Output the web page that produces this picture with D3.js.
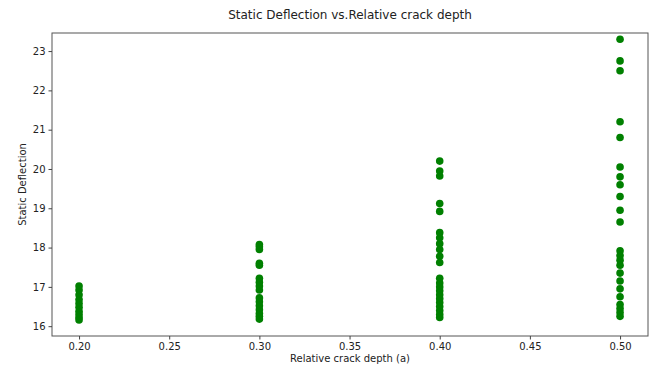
<!DOCTYPE html>
<html>
<head>
<meta charset="utf-8">
<script src="https://cdn.jsdelivr.net/npm/d3@7"></script>
<style>
  body { margin: 0; background: #fff; }
  text { font-family: "DejaVu Sans", sans-serif; fill: #222; }
</style>
</head>
<body>
<div id="chart"></div>
<script>
// relative crack depth groups
var depths = [0.2, 0.3, 0.4, 0.5];
// static deflection readings per depth
var defl20 = [17.02, 16.92, 16.8, 16.68, 16.58, 16.48, 16.38, 16.3, 16.22, 16.16];
var defl30 = [18.08, 18.02, 17.95, 17.6, 17.55, 17.22, 17.12, 17.02, 16.92, 16.72, 16.62, 16.52, 16.42, 16.32, 16.25, 16.18];
var defl40 = [20.2, 19.95, 19.82, 19.12, 18.92, 18.38, 18.25, 18.1, 17.95, 17.78, 17.62, 17.22, 17.1, 17.0, 16.9, 16.8, 16.7, 16.6, 16.5, 16.4, 16.3, 16.22];
var defl50 = [23.3, 22.75, 22.5, 21.2, 20.8, 20.05, 19.8, 19.6, 19.3, 18.95, 18.65, 17.92, 17.8, 17.68, 17.55, 17.35, 17.15, 16.95, 16.75, 16.55, 16.45, 16.35, 16.25];
var xTicks = [0.20, 0.25, 0.30, 0.35, 0.40, 0.45, 0.50];
var yTicks = [16, 17, 18, 19, 20, 21, 22, 23];

var width = 655, height = 365;
var margin = { top: 33, right: 7, bottom: 29, left: 52 };

var svg = d3.select("#chart").append("svg")
  .attr("width", width)
  .attr("height", height);

var x = d3.scaleLinear().domain([0.185, 0.5155]).range([margin.left, width - margin.right]);
var y = d3.scaleLinear().domain([15.75, 23.46]).range([height - margin.bottom, margin.top]);

var points = [];
[defl20, defl30, defl40, defl50].forEach(function (arr, i) {
  arr.forEach(function (v) { points.push({ x: depths[i], y: v }); });
});

svg.append("g")
  .selectAll("circle")
  .data(points)
  .enter().append("circle")
  .attr("cx", d => x(d.x))
  .attr("cy", d => y(d.y))
  .attr("r", 3.8)
  .attr("fill", "#008000");

// frame
svg.append("rect")
  .attr("x", margin.left).attr("y", margin.top)
  .attr("width", width - margin.left - margin.right)
  .attr("height", height - margin.top - margin.bottom)
  .attr("fill", "none").attr("stroke", "#555").attr("stroke-width", 1);

var xAxis = svg.append("g")
  .attr("transform", "translate(0," + (height - margin.bottom) + ")")
  .call(d3.axisBottom(x).tickValues(xTicks).tickFormat(d3.format(".2f")).tickSize(3.5).tickPadding(3));
var yAxis = svg.append("g")
  .attr("transform", "translate(" + margin.left + ",0)")
  .call(d3.axisLeft(y).tickValues(yTicks).tickFormat(d3.format("d")).tickSize(3.5).tickPadding(3));

[xAxis, yAxis].forEach(function (g) {
  g.select(".domain").remove();
  g.selectAll("line").attr("stroke", "#444");
  g.selectAll("text").style("font-size", "10px").attr("fill", "#333");
});

svg.append("text")
  .attr("x", (margin.left + width - margin.right) / 2)
  .attr("y", 19)
  .attr("text-anchor", "middle")
  .style("font-size", "12px")
  .text("Static Deflection vs.Relative crack depth");

svg.append("text")
  .attr("x", (margin.left + width - margin.right) / 2)
  .attr("y", 362)
  .attr("text-anchor", "middle")
  .style("font-size", "10px")
  .text("Relative crack depth (a)");

svg.append("text")
  .attr("transform", "translate(26," + ((margin.top + height - margin.bottom) / 2) + ") rotate(-90)")
  .attr("text-anchor", "middle")
  .style("font-size", "10px")
  .text("Static Deflection");
</script>
</body>
</html>
